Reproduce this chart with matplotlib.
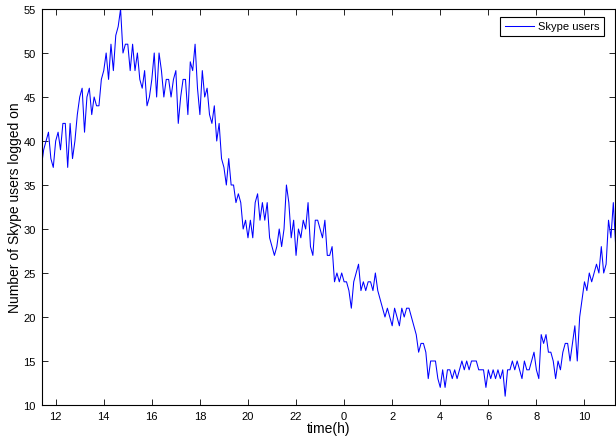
import numpy as np
import matplotlib
matplotlib.use("Agg")
import matplotlib.pyplot as plt
from matplotlib.ticker import FuncFormatter

plt.rcParams['font.family'] = ['Liberation Sans', 'DejaVu Sans']

# time axis: start hour and sampling step (hours)
t0 = 11.4
dt = 0.1

# number of Skype users logged on, one value per sample
users = [
    # 11.4 - 16.3
    37, 39, 40, 41, 38, 37, 40, 41, 39, 42,
    42, 37, 42, 38, 40, 43, 45, 46, 41, 45,
    46, 43, 45, 44, 44, 47, 48, 50, 47, 51,
    48, 52, 53, 55, 50, 51, 51, 48, 51, 48,
    50, 47, 46, 48, 44, 45, 47, 50, 45, 50,
    # 16.4 - 22.5
    48, 45, 47, 47, 45, 47, 48, 42, 45, 47,
    47, 43, 49, 48, 51, 46, 43, 48, 45, 46,
    43, 42, 44, 40, 42, 38, 37, 35, 38, 35,
    35, 33, 34, 33, 30, 31, 29, 31, 29, 33,
    34, 31, 33, 31, 33, 29, 28, 27, 28, 30,
    28, 30, 35, 33, 29, 31, 27, 30, 29, 31,
    30, 33,
    # 22.6 - 28.7
    28, 27, 31, 31, 30, 29, 31, 27, 27, 28,
    24, 25, 24, 25, 24, 24, 23, 21, 24, 25,
    26, 23, 24, 23, 24, 24, 23, 25, 23, 22,
    21, 20, 21, 20, 19, 21, 20, 19, 21, 20,
    21, 21, 20, 19, 18, 16, 17, 17, 16, 13,
    15, 15, 15, 13, 12, 14, 12, 14, 14, 13,
    14, 13,
    # 28.8 - 35.3
    14, 15, 14, 15, 14, 15, 15, 15, 14, 14,
    14, 12, 14, 13, 14, 13, 14, 13, 14, 11,
    14, 14, 15, 14, 15, 14, 13, 15, 14, 14,
    15, 16, 14, 13, 18, 17, 18, 16, 16, 15,
    13, 15, 14, 16, 17, 17, 15, 17, 19, 15,
    20, 22, 24, 23, 25, 24, 25, 26, 25, 28,
    25, 26, 31, 29, 33, 28,
]

xticks = [12, 14, 16, 18, 20, 22, 24, 26, 28, 30, 32, 34]
yticks = [10, 15, 20, 25, 30, 35, 40, 45, 50, 55]

times = t0 + dt * np.arange(len(users))

W, H = 616, 439
fig = plt.figure(figsize=(W / 100, H / 100), dpi=100)
ax = fig.add_axes([41.5 / W, 33 / H, (615 - 41.5) / W, (406 - 10) / H])

ax.plot(times, users, color=(0, 0, 1), linewidth=0.75, label='Skype users')

ax.set_xlim(11.41, 35.27)
ax.set_ylim(10, 55)
ax.set_xticks(xticks)
ax.set_yticks(yticks)
ax.xaxis.set_major_formatter(FuncFormatter(lambda v, p: f"{int(round(v)) % 24}"))

ax.tick_params(direction='in', length=4, width=0.6, top=True, right=True,
               labelsize=8, pad=4)
for s in ax.spines.values():
    s.set_linewidth(0.8)

ax.set_xlabel('time(h)', fontsize=10, labelpad=0)
ax.set_ylabel('Number of Skype users logged on', fontsize=10, labelpad=1)

leg = ax.legend(loc='upper right', bbox_to_anchor=(604 / W, (H - 18) / H),
                bbox_transform=fig.transFigure, fontsize=8, fancybox=False,
                framealpha=1, edgecolor='black', borderaxespad=0,
                handlelength=2.6, borderpad=0.4, handletextpad=0.4)
leg.get_frame().set_linewidth(0.8)

fig.savefig('out.png', dpi=100)
